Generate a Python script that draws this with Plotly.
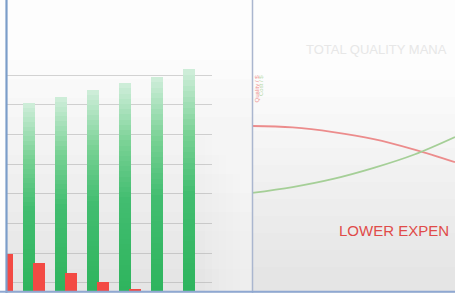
import plotly.graph_objects as go

W, H = 455, 293

# ---------------- data ----------------
groups = [0, 1, 2, 3, 4, 5, 6]
green_vals = [61.0, 63.3, 65.3, 67.7, 70.0, 72.1, 74.7]
red_vals = [12.5, 9.4, 6.1, 3.0, 0.5, 0.0, 0.0]
grid_vals = [2.7, 12.7, 22.7, 32.7, 42.7, 52.7, 62.7, 72.7]

line_x = [0, 2, 4, 6, 8, 10]
quality_vals = [56.7, 56.2, 54.6, 52.2, 48.6, 44.3]
cost_vals = [33.7, 35.7, 38.5, 42.3, 46.9, 52.9]

title_text = "TOTAL QUALITY MANA"
note_text = "LOWER EXPEN"
red_label = "Quality / $"
green_label = "Cost / $"

# ---------------- helpers ----------------
def px(x):
    return x / W

def py(y):
    return 1 - y / H

def lerp_color(f):
    stops = [(0.0, (46, 180, 93)), (0.45, (66, 189, 112)),
             (0.72, (120, 209, 148)), (1.0, (205, 237, 216))]
    for (f0, c0), (f1, c1) in zip(stops, stops[1:]):
        if f <= f1:
            t = (f - f0) / (f1 - f0)
            c = [round(a + (b - a) * t) for a, b in zip(c0, c1)]
            return "rgb(%d,%d,%d)" % tuple(c)
    return "rgb(%d,%d,%d)" % stops[-1][1]

fig = go.Figure()

# green bars with a vertical gradient: overlayed layers of decreasing height
N = 40
for k in range(N):
    frac = 1 - k / N
    fig.add_trace(go.Bar(
        x=groups, y=[v * frac for v in green_vals],
        width=0.36, offset=-0.34,
        marker=dict(color=lerp_color(frac), line=dict(width=0)),
        xaxis="x", yaxis="y", showlegend=False, hoverinfo="skip"))

fig.add_trace(go.Bar(
    x=groups, y=red_vals, width=0.37, offset=-0.02,
    marker=dict(color="#f34a44", line=dict(width=0)),
    xaxis="x", yaxis="y", showlegend=False, hoverinfo="skip"))

fig.add_trace(go.Scatter(
    x=line_x, y=quality_vals, mode="lines",
    line=dict(color="#ec8c8c", width=1.8, shape="spline"),
    xaxis="x2", yaxis="y2", showlegend=False, hoverinfo="skip"))
fig.add_trace(go.Scatter(
    x=line_x, y=cost_vals, mode="lines",
    line=dict(color="#a5cf97", width=1.8, shape="spline"),
    xaxis="x2", yaxis="y2", showlegend=False, hoverinfo="skip"))

shapes = []
# background gradient (left panel)
for k in range(12):
    top = 60 + k * 19
    shapes.append(dict(type="rect", xref="paper", yref="paper",
                       x0=px(7), x1=px(252), y0=0, y1=py(top),
                       fillcolor="rgba(0,0,0,0.0075)", line=dict(width=0),
                       layer="below"))
# lighter fade towards the divider
for k in range(6):
    shapes.append(dict(type="rect", xref="paper", yref="paper",
                       x0=px(205 + k * 7), x1=px(252), y0=0, y1=1,
                       fillcolor="rgba(255,255,255,0.09)", line=dict(width=0),
                       layer="below"))
# background gradient (right panel)
for k in range(12):
    top = 80 + k * 17
    shapes.append(dict(type="rect", xref="paper", yref="paper",
                       x0=px(253), x1=1, y0=0, y1=py(top),
                       fillcolor="rgba(30,20,0,0.0065)", line=dict(width=0),
                       layer="below"))
# frame lines
shapes += [
    dict(type="line", xref="paper", yref="paper", x0=px(6.5), x1=px(6.5),
         y0=0, y1=1, line=dict(color="#7b9dc9", width=2.2)),
    dict(type="line", xref="paper", yref="paper", x0=px(252.5), x1=px(252.5),
         y0=0, y1=1, line=dict(color="#aab6cf", width=1.5)),
    dict(type="line", xref="paper", yref="paper", x0=0, x1=1,
         y0=py(291.8), y1=py(291.8), line=dict(color="#8fa8d2", width=2)),
]

annotations = [
    dict(text=title_text, xref="paper", yref="paper", x=px(304), y=py(50),
         xanchor="left", yanchor="middle", showarrow=False,
         font=dict(family="Liberation Sans, Arial", size=13, color="#e7e7e7")),
    dict(text=note_text, xref="paper", yref="paper", x=px(337), y=py(230),
         xanchor="left", yanchor="middle", showarrow=False,
         font=dict(family="Liberation Sans, Arial", size=15, color="#e04b49")),
    dict(text=red_label, xref="paper", yref="paper", x=px(256.5), y=py(89),
         xanchor="center", yanchor="middle", showarrow=False, textangle=-90,
         font=dict(family="Liberation Sans, Arial", size=6, color="#ef8c8c")),
    dict(text=green_label, xref="paper", yref="paper", x=px(261), y=py(86),
         xanchor="center", yanchor="middle", showarrow=False, textangle=-90,
         font=dict(family="Liberation Sans, Arial", size=6, color="#b3d8a6")),
]

fig.update_layout(
    width=W, height=H,
    margin=dict(l=0, r=0, t=0, b=0),
    paper_bgcolor="#fdfdfd", plot_bgcolor="rgba(0,0,0,0)",
    barmode="overlay", bargap=0,
    showlegend=False,
    xaxis=dict(domain=[px(7), px(212)], range=[0.156, 6.5625],
               showgrid=False, zeroline=False, showticklabels=False,
               ticks="", showline=False, fixedrange=True),
    yaxis=dict(domain=[2 / H, 1], range=[0, 98.0], tickvals=grid_vals,
               showgrid=True, gridcolor="rgba(160,160,160,0.45)", gridwidth=1,
               zeroline=False, showticklabels=False, ticks="",
               showline=False, fixedrange=True),
    xaxis2=dict(domain=[px(252), 1], range=[0, 10], anchor="y2",
                showgrid=False, zeroline=False, showticklabels=False,
                ticks="", showline=False),
    yaxis2=dict(domain=[2 / H, 1], range=[0, 100], anchor="x2",
                showgrid=False, zeroline=False, showticklabels=False,
                ticks="", showline=False),
    shapes=shapes,
    annotations=annotations,
)

fig.write_html(
    "out.html",
    config={"displayModeBar": False},
    post_script="document.body.style.margin='0';document.body.style.overflow='hidden';",
)
